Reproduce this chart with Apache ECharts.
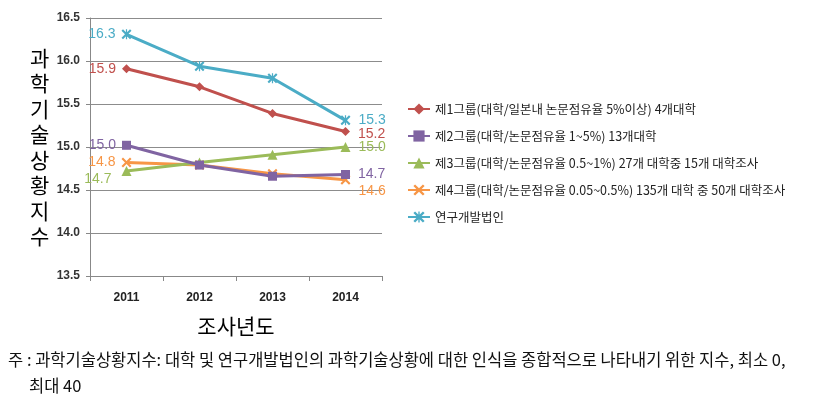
<!DOCTYPE html>
<html><head><meta charset="utf-8">
<script src="https://cdn.jsdelivr.net/npm/echarts@6/dist/echarts.min.js"></script>
<style>html,body{margin:0;padding:0;background:#fff}#c{width:824px;height:412px}</style>
</head><body><div id="c"></div>
<script>
const years = ['2011','2012','2013','2014'];
const seriesNames = [
  '제1그룹(대학/일본내 논문점유율 5%이상) 4개대학',
  '제2그룹(대학/논문점유율 1~5%) 13개대학',
  '제3그룹(대학/논문점유율 0.5~1%) 27개 대학중 15개 대학조사',
  '제4그룹(대학/논문점유율 0.05~0.5%) 135개 대학 중 50개 대학조사',
  '연구개발법인'
];
const group1 = [15.91, 15.70, 15.39, 15.18];
const group2 = [15.02, 14.79, 14.66, 14.68];
const group3 = [14.72, 14.82, 14.91, 15.00];
const group4 = [14.82, 14.79, 14.69, 14.62];
const institutes = [16.31, 15.94, 15.80, 15.31];
const yTicks = [13.5, 14.0, 14.5, 15.0, 15.5, 16.0, 16.5];
const yTitle = '과학기술상황지수';
const xTitle = '조사년도';
const note1 = '주 : 과학기술상황지수: 대학 및 연구개발법인의 과학기술상황에 대한 인식을 종합적으로 나타내기 위한 지수, 최소 0,';
const note2 = '최대 40';

const colors = ['#C0504D', '#8064A2', '#9BBB59', '#F79646', '#4BACC6'];
const xPath = 'path://M1.5,0L5,3.5L8.5,0L10,1.5L6.5,5L10,8.5L8.5,10L5,6.5L1.5,10L0,8.5L3.5,5L0,1.5Z';
const starPath = 'path://M1.5,0L5,3.5L8.5,0L10,1.5L6.5,5L10,8.5L8.5,10L5,6.5L1.5,10L0,8.5L3.5,5L0,1.5Z M4.4,0L5.6,0L5.6,10L4.4,10Z';
const symbols = ['diamond', 'rect', 'triangle', xPath, starPath];
const symSizes = [9, 9, 10, 10, 10];
const firstOffsets = [[0,0],[0,0],[-4,8],[0,0],[0,0]];
const lastOffsets = [[0,3],[0,0],[0,0],[0,11],[0,0]];
const allData = [group1, group2, group3, group4, institutes];

function buildData(vals, i) {
  return vals.map((v, j) => {
    const d = { value: v };
    if (j === 0) d.label = { show: true, position: 'left', distance: 6, offset: firstOffsets[i] };
    else if (j === vals.length - 1) d.label = { show: true, position: 'right', distance: 8, offset: lastOffsets[i] };
    return d;
  });
}

const chart = echarts.init(document.getElementById('c'));
chart.setOption({
  animation: false,
  color: colors,
  textStyle: { fontFamily: 'Noto Sans CJK KR' },
  grid: { left: 90, top: 18, right: 442, bottom: 136, containLabel: false },
  legend: {
    orient: 'vertical', left: 402, top: 97, itemGap: 13, itemWidth: 22, itemHeight: 14,
    textStyle: { fontSize: 12.5, color: '#222', fontFamily: 'Noto Sans CJK KR', lineHeight: 14 },
    data: seriesNames
  },
  xAxis: {
    type: 'category', data: years, boundaryGap: true,
    name: xTitle, nameLocation: 'middle', nameGap: 40,
    nameTextStyle: { fontSize: 21, color: '#000', fontFamily: 'Noto Sans CJK KR' },
    axisLine: { lineStyle: { color: '#888' } },
    axisTick: { show: true, alignWithLabel: false, length: 5, lineStyle: { color: '#888' } },
    axisLabel: { fontSize: 12, fontWeight: 'bold', color: '#222', margin: 16, fontFamily: 'Liberation Sans Narrow, Liberation Sans' }
  },
  yAxis: {
    type: 'value', min: yTicks[0], max: yTicks[yTicks.length - 1], interval: 0.5,
    axisLine: { show: true, lineStyle: { color: '#888' } },
    axisTick: { show: true, length: 4, lineStyle: { color: '#888' } },
    splitLine: { lineStyle: { color: '#8c8c8c' } },
    axisLabel: { fontSize: 12, fontWeight: 'bold', color: '#333', margin: 10, formatter: v => v.toFixed(1), fontFamily: 'Liberation Sans Narrow, Liberation Sans' }
  },
  graphic: [
    { type: 'text', left: 30, top: 45, style: { text: yTitle.split('').join('\n'), font: '21px "Noto Sans CJK KR"', lineHeight: 25.5, fill: '#000', align: 'center' } },
    { type: 'text', left: 8, top: 351, style: { text: note1, font: '16.5px "Noto Sans CJK KR"', fill: '#111' } },
    { type: 'text', left: 29, top: 377, style: { text: note2, font: '16.5px "Noto Sans CJK KR"', fill: '#111' } }
  ],
  series: allData.map((vals, i) => ({
    name: seriesNames[i], type: 'line', data: buildData(vals, i),
    symbol: symbols[i], symbolSize: symSizes[i], showAllSymbol: true,
    lineStyle: { width: 3, color: colors[i] },
    itemStyle: { color: colors[i] },
    label: { color: colors[i], fontSize: 14, fontFamily: 'Liberation Sans Narrow, Liberation Sans', formatter: p => p.value.toFixed(1) },
    z: 10 - i
  }))
});
</script></body></html>
